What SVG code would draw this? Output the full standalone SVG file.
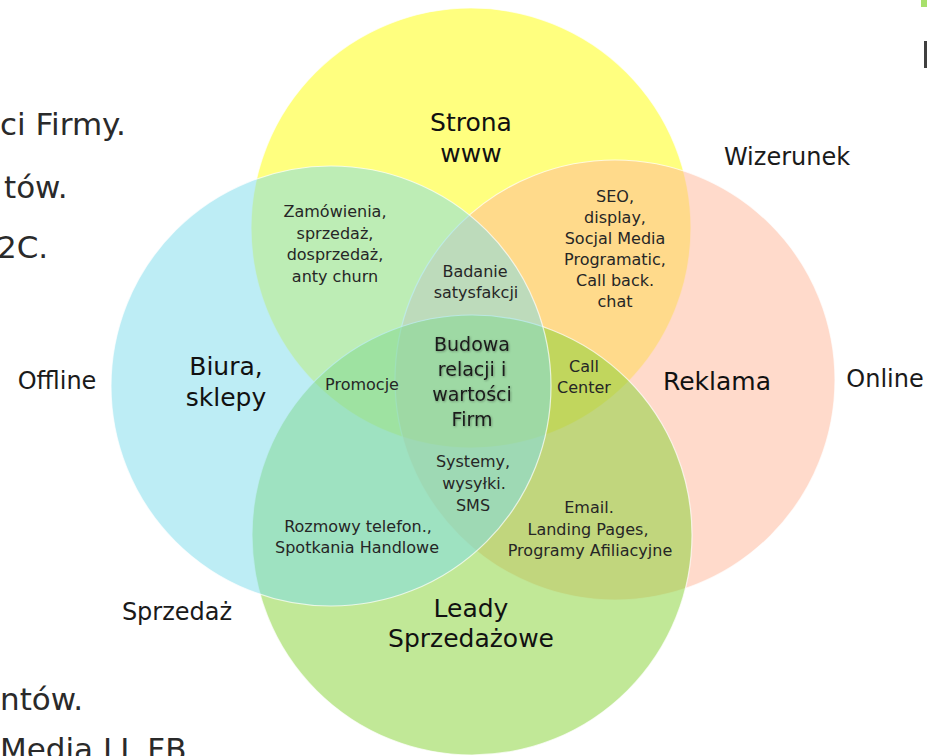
<svg xmlns="http://www.w3.org/2000/svg" width="927" height="756" viewBox="0 0 927 756">
<defs>
<style>
.c{fill-opacity:0.5;stroke:#ffffff;stroke-opacity:0.7;stroke-width:1.2}
text{font-family:"DejaVu Sans","Liberation Sans",sans-serif;text-anchor:middle}
.big{font-size:25px;fill:#111111}
.sm{font-size:16px;fill:#262626}
.out{font-size:24px;fill:#1a1a1a}
.side{font-size:31px;fill:#2a2a2a;text-anchor:start}
.ctr{font-size:19px;fill:#1a1a1a;filter:url(#sh)}
</style>
<filter id="sh" x="-20%" y="-20%" width="140%" height="140%">
<feDropShadow dx="0.8" dy="0.8" stdDeviation="0.9" flood-color="#000" flood-opacity="0.35"/>
</filter>
</defs>
<rect width="927" height="756" fill="#ffffff"/>
<g id="background-text">
<text class="side" x="0" y="135">ci Firmy.</text>
<text class="side" x="4" y="198">tów.</text>
<text class="side" x="-3" y="258">2C.</text>
<text class="side" x="0" y="710">ntów.</text>
<text class="side" x="0" y="760">Media.LL FB</text>
<rect x="921" y="0" width="6" height="7" fill="#a8e06c"/>
<rect x="924" y="41" width="3" height="27" fill="#404040"/>
</g>
<g id="circles">
<circle id="c-www" class="c" cx="471" cy="228" r="220" fill="#ffff00"/>
<circle id="c-reklama" class="c" cx="615" cy="380" r="220" fill="#ffb597"/>
<circle id="c-leady" class="c" cx="472" cy="535" r="220" fill="#83d12f"/>
<circle id="c-biura" class="c" cx="331" cy="386" r="220" fill="#7bdbeb"/>
</g>
<g id="connectors"></g>
<g id="node-www">
<text class="big" x="471" y="131">Strona</text>
<text class="big" x="471" y="162">www</text>
</g>
<g id="node-biura">
<text class="big" x="226" y="375">Biura,</text>
<text class="big" x="226" y="406">sklepy</text>
</g>
<g id="node-reklama">
<text class="big" x="717" y="390">Reklama</text>
</g>
<g id="node-leady">
<text class="big" x="471" y="617">Leady</text>
<text class="big" x="471" y="647">Sprzedażowe</text>
</g>
<g id="node-zamowienia">
<text class="sm" x="335" y="217">Zamówienia,</text>
<text class="sm" x="335" y="239">sprzedaż,</text>
<text class="sm" x="335" y="260">dosprzedaż,</text>
<text class="sm" x="335" y="282">anty churn</text>
</g>
<g id="node-badanie">
<text class="sm" x="475" y="277">Badanie</text>
<text class="sm" x="476" y="298">satysfakcji</text>
</g>
<g id="node-seo">
<text class="sm" x="615" y="202">SEO,</text>
<text class="sm" x="615" y="223">display,</text>
<text class="sm" x="615" y="244">Socjal Media</text>
<text class="sm" x="615" y="265">Programatic,</text>
<text class="sm" x="615" y="286">Call back.</text>
<text class="sm" x="615" y="307">chat</text>
</g>
<g id="node-promocje">
<text class="sm" x="362" y="390">Promocje</text>
</g>
<g id="node-budowa">
<text class="ctr" x="472" y="351">Budowa</text>
<text class="ctr" x="472" y="376">relacji i</text>
<text class="ctr" x="472" y="401">wartości</text>
<text class="ctr" x="472" y="426">Firm</text>
</g>
<g id="node-callcenter">
<text class="sm" x="584" y="372">Call</text>
<text class="sm" x="584" y="393">Center</text>
</g>
<g id="node-systemy">
<text class="sm" x="473" y="467">Systemy,</text>
<text class="sm" x="474" y="489">wysyłki.</text>
<text class="sm" x="473" y="511">SMS</text>
</g>
<g id="node-rozmowy">
<text class="sm" x="358" y="532">Rozmowy telefon.,</text>
<text class="sm" x="357" y="553">Spotkania Handlowe</text>
</g>
<g id="node-email">
<text class="sm" x="589" y="513">Email.</text>
<text class="sm" x="588" y="535">Landing Pages,</text>
<text class="sm" x="590" y="556">Programy Afiliacyjne</text>
</g>
<g id="outer-labels">
<text class="out" x="57" y="389">Offline</text>
<text class="out" x="885" y="387">Online</text>
<text class="out" x="787" y="165">Wizerunek</text>
<text class="out" x="177" y="620">Sprzedaż</text>
</g>
</svg>
